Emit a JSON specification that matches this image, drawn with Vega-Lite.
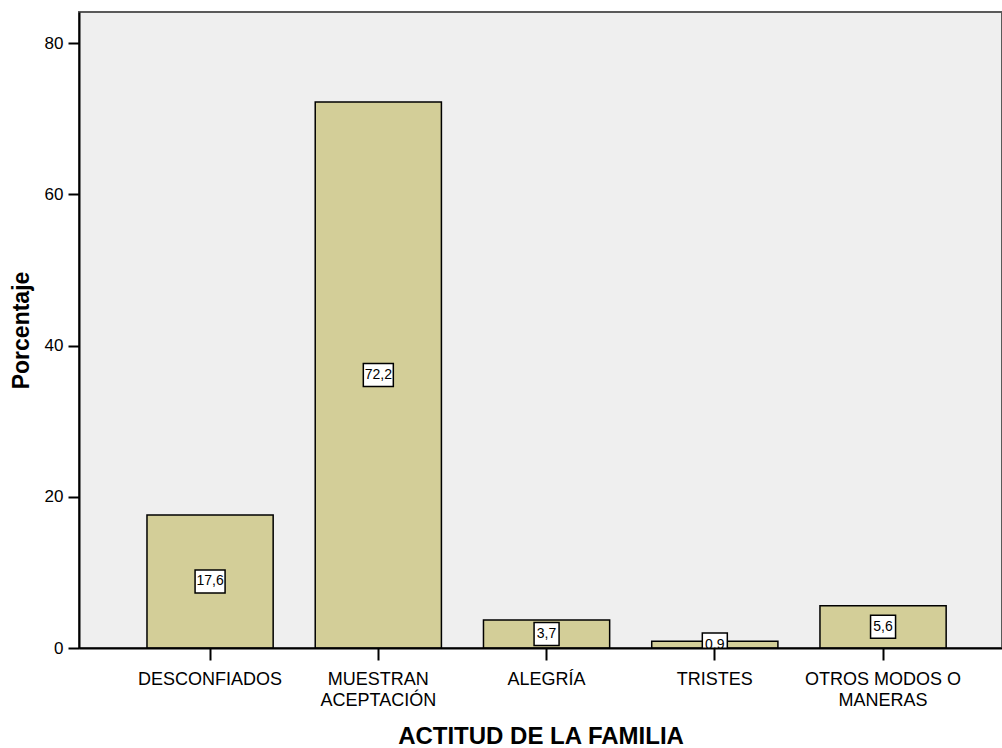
{
  "$schema": "https://vega.github.io/schema/vega-lite/v6.json",
  "width": 923,
  "height": 636,
  "autosize": {"type": "none"},
  "padding": {"left": 79, "top": 12, "right": 0, "bottom": 100},
  "background": "white",
  "config": {
    "view": {"fill": "#EFEFEF", "stroke": "#5A5A5A", "strokeWidth": 2},
    "font": "Liberation Sans"
  },
  "data": {
    "values": [
      {"actitud": "DESCONFIADOS", "pct": 17.6, "etiqueta": "17,6"},
      {"actitud": "MUESTRAN ACEPTACIÓN", "pct": 72.2, "etiqueta": "72,2"},
      {"actitud": "ALEGRÍA", "pct": 3.7, "etiqueta": "3,7"},
      {"actitud": "TRISTES", "pct": 0.9, "etiqueta": "0,9"},
      {"actitud": "OTROS MODOS O MANERAS", "pct": 5.6, "etiqueta": "5,6"}
    ]
  },
  "layer": [
    {
      "mark": {"type": "bar", "fill": "#D3CE98", "stroke": "#000000", "strokeWidth": 1.5},
      "encoding": {
        "x": {
          "field": "actitud", "type": "nominal", "sort": null,
          "scale": {"paddingInner": 0.25, "paddingOuter": 0.368, "align": 0.549},
          "axis": {
            "title": "ACTITUD DE LA FAMILIA",
            "titleFontSize": 24, "titleFontWeight": "bold", "titleColor": "#000000", "titlePadding": 15,
            "labelFontSize": 18, "labelColor": "#000000", "labelLineHeight": 21, "labelPadding": 10,
            "labelAngle": 0,
            "labelExpr": "datum.label == 'MUESTRAN ACEPTACIÓN' ? ['MUESTRAN', 'ACEPTACIÓN'] : datum.label == 'OTROS MODOS O MANERAS' ? ['OTROS MODOS O', 'MANERAS'] : datum.label",
            "tickSize": 12, "tickWidth": 2, "tickColor": "#000000",
            "domainColor": "#000000", "domainWidth": 2, "zindex": 1
          }
        },
        "y": {
          "field": "pct", "type": "quantitative",
          "scale": {"domain": [0, 84.1], "nice": false},
          "axis": {
            "title": "Porcentaje",
            "titleFontSize": 23, "titleFontWeight": "bold", "titleColor": "#000000", "titlePadding": 11,
            "labelFontSize": 17, "labelColor": "#000000", "labelPadding": 5,
            "values": [0, 20, 40, 60, 80], "grid": false,
            "tickSize": 11, "tickWidth": 2, "tickColor": "#000000",
            "domainColor": "#000000", "domainWidth": 2, "zindex": 1
          }
        }
      }
    },
    {
      "transform": [{"filter": "datum.pct >= 10"}],
      "mark": {"type": "point", "shape": "M-1.5,-1.15L1.5,-1.15L1.5,1.15L-1.5,1.15Z", "size": 400, "filled": true, "fill": "#FFFFFF", "stroke": "#000000", "strokeWidth": 1.5, "opacity": 1, "clip": true},
      "encoding": {
        "x": {"field": "actitud", "type": "nominal", "sort": null},
        "y": {"field": "pct", "type": "quantitative", "scale": {"domain": [0, 168.2], "nice": false}, "axis": null}
      }
    },
    {
      "transform": [{"filter": "datum.pct < 10"}],
      "mark": {"type": "point", "shape": "M-1.25,-1.15L1.25,-1.15L1.25,1.15L-1.25,1.15Z", "size": 400, "filled": true, "fill": "#FFFFFF", "stroke": "#000000", "strokeWidth": 1.5, "opacity": 1, "clip": true},
      "encoding": {
        "x": {"field": "actitud", "type": "nominal", "sort": null},
        "y": {"field": "pct", "type": "quantitative", "scale": {"domain": [0, 168.2], "nice": false}, "axis": null}
      }
    },
    {
      "mark": {"type": "text", "fontSize": 14, "color": "#000000", "align": "center", "baseline": "middle", "clip": true},
      "encoding": {
        "x": {"field": "actitud", "type": "nominal", "sort": null},
        "y": {"field": "pct", "type": "quantitative", "scale": {"domain": [0, 168.2], "nice": false}, "axis": null},
        "text": {"field": "etiqueta"}
      }
    }
  ],
  "resolve": {"scale": {"y": "independent"}}
}
